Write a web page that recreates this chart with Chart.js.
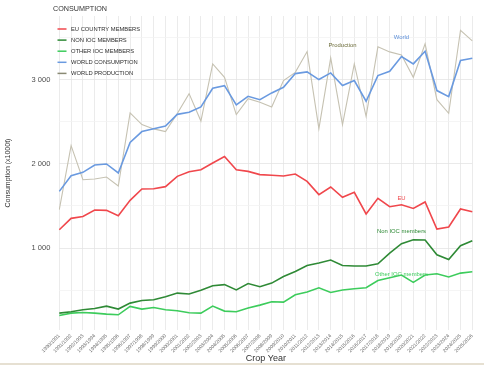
<!DOCTYPE html>
<html>
<head>
<meta charset="utf-8">
<script src="https://cdn.jsdelivr.net/npm/chart.js@4"></script>
<style>
  html, body { margin: 0; padding: 0; background: #fff; }
  #wrap { position: relative; width: 484px; height: 365px; }
  #strip { position: absolute; left: 0; right: 0; bottom: 0; height: 2px; background: #e6e0d2; }
</style>
</head>
<body>
<div id="wrap">
  <canvas id="chart"></canvas>
  <div id="strip"></div>
</div>
<script>
// ── data ────────────────────────────────────────────────
const CROP_YEARS = [
  "1990/1991", "1991/1992", "1992/1993", "1993/1994", "1994/1995", "1995/1996",
  "1996/1997", "1997/1998", "1998/1999", "1999/2000", "2000/2001", "2001/2002",
  "2002/2003", "2003/2004", "2004/2005", "2005/2006", "2006/2007", "2007/2008",
  "2008/2009", "2009/2010", "2010/2011", "2011/2012", "2012/2013", "2013/2014",
  "2014/2015", "2015/2016", "2016/2017", "2017/2018", "2018/2019", "2019/2020",
  "2020/2021", "2021/2022", "2022/2023", "2023/2024", "2024/2025", "2025/2026",
];

const EU_MEMBERS = [1218, 1353, 1376, 1452, 1448, 1385, 1567, 1702, 1706, 1730, 1853, 1908,
  1932, 2012, 2089, 1930, 1912, 1873, 1865, 1857, 1881, 1793, 1635, 1726,
  1603, 1662, 1405, 1591, 1492, 1515, 1471, 1548, 1226, 1250, 1464, 1432];

const NON_IOC = [226, 242, 265, 281, 309, 274, 345, 376, 385, 420, 464, 454,
  497, 551, 565, 502, 577, 539, 583, 662, 721, 793, 821, 857,
  793, 786, 786, 813, 940, 1051, 1099, 1095, 920, 864, 1027, 1087];

const OTHER_IOC = [198, 226, 233, 226, 214, 206, 305, 274, 293, 265, 254, 230,
  226, 309, 250, 242, 286, 321, 361, 357, 444, 476, 527, 471,
  500, 515, 527, 614, 646, 679, 591, 679, 694, 655, 702, 718];

const WORLD_CONS = [1674, 1861, 1900, 1988, 2000, 1893, 2257, 2385, 2420, 2452, 2590, 2614,
  2678, 2900, 2932, 2702, 2805, 2765, 2845, 2912, 3075, 3095, 3004, 3083,
  2932, 2992, 2746, 3051, 3103, 3277, 3190, 3340, 2873, 2801, 3230, 3257];

const WORLD_PROD = [1456, 2218, 1813, 1821, 1845, 1738, 2607, 2468, 2417, 2385, 2600, 2837,
  2510, 3190, 3031, 2587, 2777, 2733, 2678, 2992, 3090, 3337, 2420, 3262,
  2468, 3190, 2567, 3393, 3333, 3297, 3031, 3429, 2765, 2603, 3590, 3465];

const SERIES_NAMES = ["EU COUNTRY MEMBERS", "NON IOC MEMBERS", "OTHER IOC MEMBERS",
  "WORLD CONSUMPTION", "WORLD PRODUCTION"];

// y grid: 500 steps, labels only on the thousands
const Y_GRID   = [500, 1000, 1500, 2000, 2500, 3000, 3500];
const Y_LABELS = { 1000: "1 000", 2000: "2 000", 3000: "3 000" };

// line-end labels: text, category index, value
const NOTE_TEXT = ["Production", "World", "EU", "Non IOC members", "Other IOC members"];
const NOTE_X    = [24, 29, 29, 29, 29];
const NOTE_Y    = [3410, 3511, 1590, 1193, 687];

// ── styles ──────────────────────────────────────────────
const COLORS = {
  eu:    "#f0474c",
  non:   "#2f8a36",
  other: "#3dcc5c",
  world: "#6a9ae0",
  prod:  "#c6c2b2",
};
const NOTE_COLORS = ["#6e6e3c", "#5b8ed8", "#f0474c", "#2f8a36", "#3dcc5c"];
const FONT = "'Liberation Sans', Arial, sans-serif";

// ── title / legend / notes plugin ───────────────────────
const decorPlugin = {
  id: "decor",
  afterDraw(c) {
    const ctx = c.ctx;
    const xs = c.scales.x, ys = c.scales.y;
    ctx.save();

    // title
    ctx.fillStyle = "#333";
    ctx.font = `7.2px ${FONT}`;
    ctx.textAlign = "left";
    ctx.textBaseline = "middle";
    ctx.fillText("CONSUMPTION", 53, 9.5);

    // legend
    ctx.font = `5.8px ${FONT}`;
    c.data.datasets.forEach((ds, i) => {
      const y = 29 + i * 11.1;
      ctx.strokeStyle = ds.legendColor || ds.borderColor;
      ctx.lineWidth = 1.5;
      ctx.beginPath();
      ctx.moveTo(57.5, y);
      ctx.lineTo(66.5, y);
      ctx.stroke();
      ctx.fillStyle = "#2e2e2e";
      ctx.fillText(ds.label, 71, y + 0.3);
    });

    // notes
    ctx.font = `5.9px ${FONT}`;
    ctx.textAlign = "center";
    NOTE_TEXT.forEach((t, i) => {
      ctx.fillStyle = NOTE_COLORS[i];
      ctx.fillText(t, xs.getPixelForValue(NOTE_X[i]), ys.getPixelForValue(NOTE_Y[i]));
    });
    ctx.restore();
  },
};

const ds = (label, data, color, width, order, legendColor) => ({
  label, data,
  borderColor: color,
  legendColor,
  borderWidth: width,
  pointRadius: 0,
  tension: 0,
  fill: false,
  order,
});

new Chart(document.getElementById("chart"), {
  type: "line",
  plugins: [decorPlugin],
  data: {
    labels: CROP_YEARS,
    datasets: [
      ds(SERIES_NAMES[0], EU_MEMBERS, COLORS.eu, 1.6, 1),
      ds(SERIES_NAMES[1], NON_IOC, COLORS.non, 1.6, 2),
      ds(SERIES_NAMES[2], OTHER_IOC, COLORS.other, 1.6, 3),
      ds(SERIES_NAMES[3], WORLD_CONS, COLORS.world, 1.6, 4),
      ds(SERIES_NAMES[4], WORLD_PROD, COLORS.prod, 1.1, 5, "#8a8a74"),
    ],
  },
  options: {
    responsive: true,
    maintainAspectRatio: false,
    devicePixelRatio: 1,
    animation: false,
    layout: { padding: { top: 16, right: 11.7, left: 0, bottom: 0 } },
    plugins: {
      legend: { display: false },
      tooltip: { enabled: false },
    },
    scales: {
      x: {
        offset: false,
        afterFit(s) { s.height = 35; },
        grid: { color: "#e6e6e6", lineWidth: 0.8, drawTicks: false },
        border: { display: false },
        ticks: {
          autoSkip: false,
          maxRotation: 45,
          minRotation: 45,
          padding: 3,
          color: "#666",
          font: { size: 5, family: FONT },
        },
        title: {
          display: true,
          text: "Crop Year",
          color: "#333",
          font: { size: 9, family: FONT },
          padding: { top: 0, bottom: 1 },
        },
      },
      y: {
        min: 25,
        max: 3760,
        afterFit(s) { s.width = 59.3; },
        afterBuildTicks(s) { s.ticks = Y_GRID.map((v) => ({ value: v })); },
        grid: {
          drawTicks: false,
          lineWidth: 0.8,
          color: (g) => (g.tick && Y_LABELS[g.tick.value] ? "#e4e4e4" : "#f2f2f2"),
        },
        border: { display: false },
        ticks: {
          padding: 9,
          color: "#4d4d4d",
          font: { size: 7.5, family: FONT },
          callback: (v) => Y_LABELS[v] || "",
        },
        title: {
          display: true,
          text: "Consumption (x1000t)",
          color: "#333",
          font: { size: 7, family: FONT },
          padding: { top: 4, bottom: 0 },
        },
      },
    },
  },
});
</script>
</body>
</html>
